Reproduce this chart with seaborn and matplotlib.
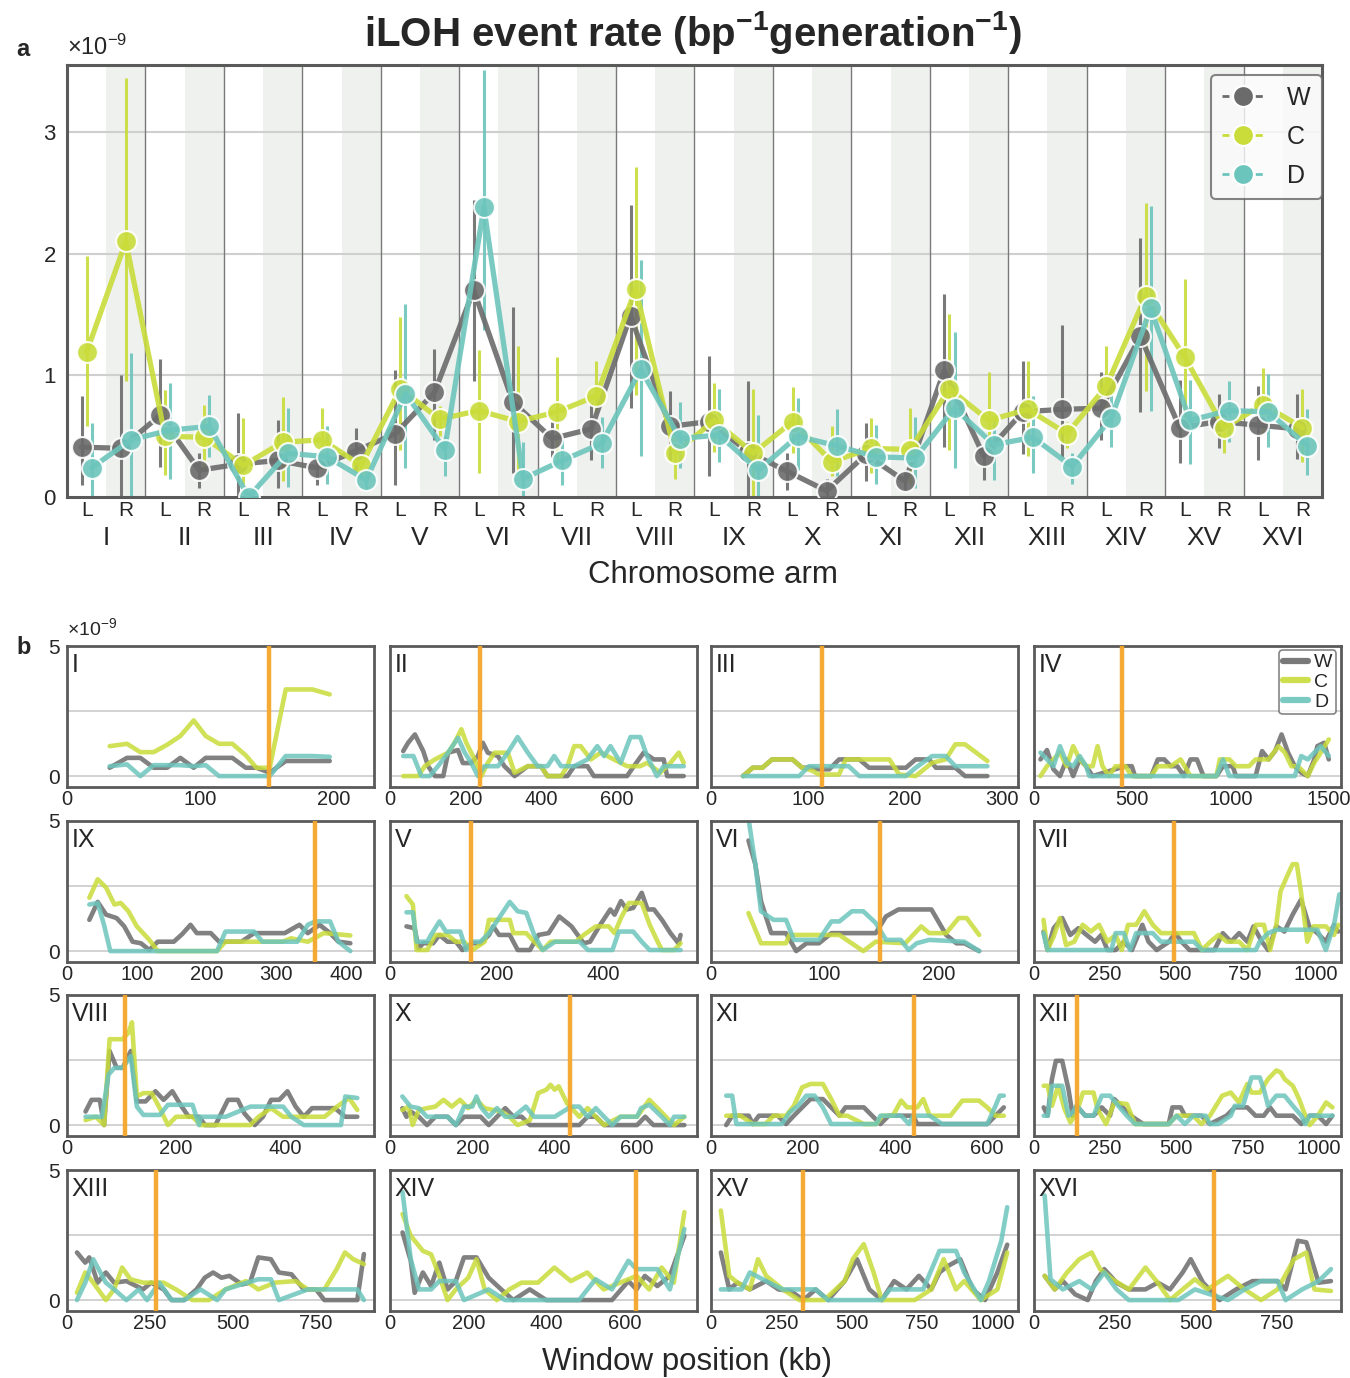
import matplotlib
matplotlib.use("Agg")
import matplotlib.pyplot as plt
import matplotlib.transforms as mtransforms
from matplotlib.lines import Line2D
import seaborn as sns
import pandas as pd

sns.set_theme(style="white")
plt.rcParams["font.family"] = ["Liberation Sans", "DejaVu Sans"]
plt.rcParams["mathtext.fontset"] = "custom"
plt.rcParams["mathtext.rm"] = "Liberation Sans"
plt.rcParams["mathtext.it"] = "Liberation Sans:italic"
plt.rcParams["mathtext.bf"] = "Liberation Sans:bold"

# ---------------- data: panel a (per chromosome arm, x1e-9) ----------------
chroms = ["I", "II", "III", "IV", "V", "VI", "VII", "VIII",
          "IX", "X", "XI", "XII", "XIII", "XIV", "XV", "XVI"]
arm_labels = ["L", "R"] * 16
strains = ["W", "C", "D"]

rate_W = [0.41, 0.40, 0.67, 0.22, 0.27, 0.30, 0.24, 0.38, 0.52, 0.86, 1.70, 0.78, 0.48, 0.56, 1.49, 0.58,
          0.62, 0.37, 0.21, 0.05, 0.35, 0.13, 1.04, 0.34, 0.70, 0.72, 0.73, 1.32, 0.57, 0.62, 0.59, 0.56]
lo_W = [0.10, 0.0, 0.25, 0.07, 0.0, 0.07, 0.10, 0.22, 0.10, 0.47, 0.95, 0.20, 0.33, 0.30, 0.73, 0.30,
        0.17, 0.0, 0.06, 0.0, 0.13, 0.05, 0.41, 0.14, 0.35, 0.33, 0.47, 0.70, 0.28, 0.40, 0.30, 0.31]
hi_W = [0.83, 1.00, 1.13, 0.36, 0.69, 0.63, 0.32, 0.57, 1.04, 1.22, 2.44, 1.56, 0.62, 0.77, 2.40, 0.87,
        1.16, 0.95, 0.36, 0.15, 0.61, 0.22, 1.67, 0.40, 1.12, 1.41, 1.03, 2.13, 0.96, 0.85, 0.91, 0.85]

rate_C = [1.19, 2.10, 0.50, 0.49, 0.26, 0.45, 0.47, 0.26, 0.89, 0.64, 0.71, 0.62, 0.70, 0.83, 1.71, 0.36,
          0.63, 0.36, 0.62, 0.29, 0.40, 0.39, 0.89, 0.63, 0.72, 0.52, 0.91, 1.65, 1.15, 0.57, 0.76, 0.57]
lo_C = [0.58, 0.95, 0.18, 0.22, 0.11, 0.13, 0.22, 0.15, 0.39, 0.50, 0.20, 0.20, 0.28, 0.69, 0.84, 0.15,
        0.37, 0.0, 0.36, 0.17, 0.20, 0.11, 0.39, 0.36, 0.34, 0.40, 0.61, 0.87, 0.61, 0.36, 0.52, 0.29]
hi_C = [1.98, 3.44, 0.88, 0.76, 0.65, 0.82, 0.73, 0.36, 1.48, 0.75, 1.21, 1.24, 1.15, 1.12, 2.71, 0.50,
        0.94, 0.89, 0.90, 0.58, 0.65, 0.73, 1.50, 1.03, 1.12, 0.62, 1.24, 2.42, 1.79, 0.70, 1.06, 0.89]

rate_D = [0.24, 0.47, 0.55, 0.58, 0.0, 0.36, 0.33, 0.14, 0.85, 0.39, 2.38, 0.15, 0.30, 0.44, 1.05, 0.48,
          0.51, 0.22, 0.50, 0.42, 0.33, 0.32, 0.73, 0.43, 0.49, 0.25, 0.65, 1.55, 0.63, 0.71, 0.70, 0.42]
lo_D = [0.0, 0.0, 0.15, 0.33, 0.0, 0.08, 0.11, 0.06, 0.24, 0.17, 1.37, 0.0, 0.10, 0.24, 0.34, 0.24,
        0.29, 0.0, 0.22, 0.17, 0.11, 0.07, 0.24, 0.14, 0.20, 0.11, 0.41, 0.71, 0.27, 0.45, 0.41, 0.18]
hi_D = [0.61, 1.18, 0.94, 0.84, 0.05, 0.73, 0.58, 0.22, 1.59, 0.50, 3.51, 0.45, 0.48, 0.66, 1.95, 0.78,
        0.89, 0.67, 0.81, 0.72, 0.59, 0.66, 1.36, 0.66, 0.83, 0.36, 0.86, 2.39, 0.96, 0.95, 1.01, 0.72]

# ---------------- data: panel b (sliding windows, kb / x1e-9) ----------------
chrom_len = {"I": 230.2, "II": 813.2, "III": 316.6, "IV": 1560, "V": 576.9, "VI": 270.2,
             "VII": 1090.9, "VIII": 562.6, "IX": 439.9, "X": 745.8, "XI": 666.8, "XII": 1078.2,
             "XIII": 924.4, "XIV": 784.3, "XV": 1091.3, "XVI": 948.1}
cen_kb = {"I": 151.5, "II": 238.2, "III": 114.4, "IV": 449.7, "V": 151.9, "VI": 148.5,
          "VII": 496.9, "VIII": 105.6, "IX": 355.6, "X": 436.3, "XI": 440.1, "XII": 150.8,
          "XIII": 268.0, "XIV": 628.8, "XV": 326.6, "XVI": 555.9}
panel_order = ["I", "II", "III", "IV", "IX", "V", "VI", "VII",
               "VIII", "X", "XI", "XII", "XIII", "XIV", "XV", "XVI"]
xticks_b = {"I": [0, 100, 200], "II": [0, 200, 400, 600], "III": [0, 100, 200, 300],
            "IV": [0, 500, 1000, 1500], "IX": [0, 100, 200, 300, 400], "V": [0, 200, 400],
            "VI": [0, 100, 200], "VII": [0, 250, 500, 750, 1000], "VIII": [0, 200, 400],
            "X": [0, 200, 400, 600], "XI": [0, 200, 400, 600], "XII": [0, 250, 500, 750, 1000],
            "XIII": [0, 250, 500, 750], "XIV": [0, 200, 400, 600], "XV": [0, 250, 500, 750, 1000],
            "XVI": [0, 250, 500, 750]}

W_kb = {
    "I": [32, 45, 55, 65, 75, 85, 95, 104, 114, 124, 134, 142, 152, 164, 184, 197],
    "II": [35, 48, 66, 88, 101, 119, 141, 154, 180, 193, 215, 233, 246, 259, 286, 303, 330, 365, 400, 417,
           470, 488, 523, 540, 628, 646, 672, 699, 725, 734, 778],
    "III": [33, 43, 53, 63, 84, 94, 105, 111, 122, 132, 153, 163, 180, 201, 211, 225, 232, 252, 262, 285],
    "IV": [33, 66, 99, 132, 166, 199, 232, 265, 298, 464, 497, 513, 596, 629, 662, 695, 728, 762, 795, 828,
           861, 927, 960, 1010, 1026, 1126, 1159, 1192, 1225, 1258, 1291, 1325, 1358, 1391, 1424, 1440,
           1474, 1498],
    "IX": [32, 44, 56, 71, 82, 94, 106, 118, 130, 153, 165, 177, 186, 206, 218, 250, 268, 312, 333, 345,
           362, 377, 389, 406],
    "V": [31, 46, 54, 62, 81, 93, 108, 124, 136, 155, 170, 186, 194, 205, 225, 240, 263, 279, 298, 318,
          341, 364, 376, 395, 414, 422, 434, 445, 457, 473, 484, 496, 511, 527, 542, 546],
    "VI": [33, 39, 44, 53, 66, 75, 84, 95, 106, 145, 154, 165, 194, 207, 216, 223, 236],
    "VII": [34, 48, 70, 100, 129, 158, 187, 217, 239, 261, 290, 319, 348, 385, 407, 436, 480, 502, 524,
            553, 641, 671, 700, 729, 758, 780, 810, 832, 861, 890, 919, 949, 978, 1007, 1037, 1066, 1081],
    "VIII": [34, 45, 60, 68, 78, 91, 102, 117, 128, 144, 162, 177, 193, 208, 223, 242, 253, 272, 295, 313,
             325, 344, 359, 374, 389, 404, 419, 434, 449, 491, 510, 532],
    "X": [30, 40, 50, 70, 90, 110, 140, 160, 180, 220, 240, 260, 280, 300, 320, 340, 460, 480, 500, 520,
          600, 620, 640, 715],
    "XI": [33, 46, 82, 91, 104, 145, 163, 180, 198, 216, 243, 261, 279, 292, 332, 350, 368, 386, 439, 448,
           600, 618, 636],
    "XII": [34, 48, 63, 77, 99, 121, 136, 150, 180, 209, 238, 267, 282, 311, 340, 384, 473, 486, 515, 530,
            588, 618, 676, 705, 749, 778, 807, 829, 851, 909, 939, 968, 997, 1026, 1048],
    "XIII": [30, 55, 67, 92, 117, 142, 179, 229, 253, 291, 315, 353, 390, 415, 440, 465, 489, 527, 551, 576,
             614, 638, 676, 713, 750, 775, 874, 894],
    "XIV": [32, 53, 63, 84, 105, 126, 147, 168, 189, 221, 252, 284, 315, 357, 399, 567, 609, 630, 651, 683,
            715, 752],
    "XV": [35, 65, 94, 138, 196, 240, 284, 328, 372, 416, 475, 519, 563, 607, 651, 695, 739, 783, 812, 842,
           886, 930, 974, 1018, 1053],
    "XVI": [33, 64, 89, 127, 166, 191, 217, 255, 293, 344, 382, 420, 459, 484, 522, 573, 624, 675, 752, 777,
            815, 841, 879, 917],
}
W_rate = {
    "I": [0.32, 0.7, 0.7, 0.32, 0.32, 0.7, 0.32, 0.7, 0.7, 0.7, 0.32, 0.32, 0.13, 0.58, 0.58, 0.58],
    "II": [0.96, 1.28, 1.6, 0.96, 0.38, 0, 0, 0.9, 1.0, 0.5, 0.5, 0.77, 1.28, 0.9, 0.77, 0.38, 0, 0.38, 0.38,
           0, 0, 0.38, 0.38, 0, 0, 0.38, 0.9, 0.64, 0.64, 0, 0],
    "III": [0, 0.32, 0.32, 0.64, 0.64, 0.32, 0.32, 0.26, 0.26, 0.64, 0.64, 0.32, 0.32, 0.32, 0.64, 0.64,
            0.32, 0.32, 0, 0],
    "IV": [0.64, 1.0, 0.26, 0, 0.64, 0, 0.64, 0.38, 0, 0.38, 0.38, 0, 0, 0.64, 0.64, 0.38, 0.38, 0, 0.64,
           0.64, 0, 0, 0.38, 0.38, 0, 0, 0.96, 0.64, 0.96, 1.6, 0.9, 0.38, 0.13, 0, 0.64, 1.15, 1.28, 0.64],
    "IX": [1.2, 1.89, 1.4, 1.27, 0.95, 0.36, 0.3, 0.04, 0.36, 0.36, 0.65, 1.01, 0.69, 0.69, 0.36, 0.36,
           0.69, 0.69, 1.01, 0.69, 1.01, 0.69, 0.36, 0.3],
    "V": [0.95, 0.88, 0.1, 0.3, 0.3, 0.62, 0.36, 0.36, 0.04, 0.3, 0.3, 0.62, 0.95, 0.62, 0.62, 0.04, 0.04,
          0.62, 0.69, 1.33, 0.95, 0.3, 0.36, 1.01, 1.6, 1.4, 1.92, 1.6, 1.66, 2.24, 1.6, 1.6, 1.2, 0.69,
          0.3, 0.62],
    "VI": [4.25, 3.34, 1.92, 0.69, 0.69, 0.0, 0.3, 0.3, 0.69, 0.69, 1.33, 1.6, 1.6, 0.62, 0.3, 0.3, 0.0],
    "VII": [0.75, 0.04, 0.88, 1.27, 0.62, 0.88, 0.62, 0.36, 0.62, 0.04, 0.04, 0.36, 0.04, 1.01, 0.36, 0.04,
            0.36, 0.69, 0.36, 0.04, 0.04, 0.69, 0.36, 0.69, 0.36, 0.95, 0.36, 0.04, 0.95, 0.75, 1.4, 1.98,
            0.95, 0.69, 0.36, 1.01, 0.75],
    "VIII": [0.52, 0.97, 0.97, 0.0, 2.85, 2.2, 2.2, 2.85, 0.91, 0.91, 1.3, 0.97, 1.3, 0.78, 0.32, 0.32, 0.0,
             0.0, 0.97, 0.97, 0.45, 0.0, 0.32, 0.97, 0.97, 1.3, 0.71, 0.32, 0.65, 0.65, 0.32, 0.32],
    "X": [0.65, 0.32, 0.52, 0.32, 0.0, 0.32, 0.32, 0.0, 0.32, 0.32, 0.0, 0.32, 0.65, 0.32, 0.32, 0.0, 0.0,
          0.32, 0.32, 0.0, 0.0, 0.32, 0.0, 0.0],
    "XI": [0.0, 0.36, 0.36, 0.04, 0.36, 0.36, 0.04, 0.36, 0.68, 1.0, 1.0, 0.68, 0.36, 0.68, 0.68, 0.36, 0.04,
           0.36, 0.36, 0.04, 0.04, 0.36, 0.68],
    "XII": [0.68, 0.36, 1.77, 2.47, 2.47, 1.38, 0.36, 0.74, 0.36, 0.36, 0.68, 0.36, 1.0, 0.68, 0.36, 0.04,
            0.04, 0.68, 0.68, 0.36, 0.36, 0.04, 0.36, 0.68, 0.68, 0.36, 0.36, 0.68, 0.36, 0.36, 0.04, 0.36,
            0.36, 0.04, 0.36],
    "XIII": [1.83, 1.44, 1.64, 0.67, 1.06, 0.67, 0.73, 0.41, 0.67, 0.41, 0.0, 0.0, 0.41, 0.86, 1.06, 0.86,
             0.93, 0.6, 0.67, 1.64, 1.57, 1.06, 0.99, 0.41, 0.41, 0.0, 0.0, 1.77],
    "XIV": [2.6, 1.51, 0.28, 1.06, 0.54, 1.44, 0.41, 0.73, 1.64, 1.64, 0.86, 0.41, 0.0, 0.41, 0.0, 0.0, 0.73,
            0.41, 0.93, 0.54, 0.93, 2.47],
    "XV": [1.83, 0.41, 0.67, 0.41, 0.73, 0.41, 0.35, 0.0, 0.41, 0.0, 0.73, 1.57, 0.41, 0.0, 0.73, 0.41, 0.93,
           0.41, 1.06, 1.31, 1.57, 0.41, 0.0, 1.06, 2.13],
    "XVI": [0.93, 0.41, 0.73, 0.22, 0.0, 0.73, 1.19, 0.67, 0.41, 0.41, 0.67, 0.41, 1.06, 1.57, 0.67, 0.0,
            0.41, 0.73, 0.73, 0.41, 2.28, 2.22, 0.67, 0.73],
}

C_kb = {
    "I": [32, 45, 55, 65, 75, 85, 95, 104, 114, 124, 134, 142, 152, 164, 184, 197],
    "II": [35, 75, 92, 119, 154, 171, 189, 202, 224, 242, 259, 277, 312, 330, 365, 400, 417, 453, 470, 488,
           505, 532, 558, 593, 628, 663, 681, 716, 743, 765, 778],
    "III": [33, 43, 53, 63, 84, 94, 105, 111, 132, 139, 184, 194, 211, 228, 242, 252, 262, 285],
    "IV": [33, 66, 99, 132, 166, 199, 232, 265, 298, 323, 348, 381, 414, 464, 497, 596, 629, 695, 745, 795,
           927, 944, 993, 1026, 1093, 1126, 1192, 1242, 1275, 1308, 1341, 1391, 1424, 1457, 1498],
    "IX": [32, 44, 56, 68, 77, 88, 100, 118, 130, 215, 227, 309, 321, 345, 368, 406],
    "V": [31, 43, 50, 70, 85, 108, 124, 139, 155, 178, 186, 225, 232, 256, 271, 287, 302, 349, 364, 387,
          411, 422, 434, 449, 473, 488, 503, 511, 534, 546],
    "VI": [33, 44, 66, 69, 113, 134, 145, 171, 185, 192, 207, 218, 225, 236],
    "VII": [34, 48, 70, 92, 114, 143, 173, 202, 231, 261, 290, 312, 334, 363, 392, 422, 451, 495, 568, 597,
            627, 656, 685, 729, 758, 788, 817, 839, 861, 876, 897, 919, 934, 949, 971, 993, 1037, 1066, 1081],
    "VIII": [34, 53, 68, 78, 102, 113, 119, 128, 140, 155, 170, 185, 200, 230, 245, 336, 351, 374, 396, 472,
             495, 517, 532],
    "X": [30, 45, 55, 70, 90, 110, 130, 150, 170, 190, 210, 230, 270, 290, 310, 340, 360, 380, 390, 400,
          410, 430, 460, 480, 500, 520, 560, 600, 630, 650, 670, 690, 715],
    "XI": [33, 64, 91, 118, 136, 163, 180, 198, 216, 243, 261, 279, 296, 332, 359, 372, 395, 413, 426, 448,
           461, 475, 520, 546, 582, 600, 618, 636],
    "XII": [34, 48, 63, 85, 107, 128, 150, 172, 209, 223, 253, 282, 326, 355, 473, 501, 559, 588, 618, 639,
            661, 691, 720, 749, 764, 793, 822, 851, 866, 880, 909, 931, 953, 968, 997, 1026, 1048],
    "XIII": [30, 55, 79, 117, 142, 166, 191, 229, 291, 328, 378, 427, 477, 539, 576, 626, 688, 725, 775, 812,
             837, 862, 894],
    "XIV": [32, 53, 84, 105, 126, 147, 168, 200, 221, 242, 273, 305, 336, 378, 420, 462, 504, 546, 588, 630,
            662, 694, 725, 752],
    "XV": [35, 65, 94, 138, 167, 196, 255, 314, 402, 475, 504, 543, 578, 607, 724, 783, 827, 871, 900, 959,
           1018, 1053],
    "XVI": [33, 64, 102, 140, 178, 204, 242, 293, 344, 382, 420, 459, 497, 535, 599, 650, 701, 752, 803, 841,
            866, 917],
}
C_rate = {
    "I": [1.15, 1.24, 0.92, 0.92, 1.2, 1.54, 2.14, 1.54, 1.24, 1.24, 0.8, 0.32, 0.32, 3.33, 3.33, 3.14],
    "II": [0, 0, 0.38, 0.64, 0.9, 1.28, 1.8, 1.28, 0.64, 0, 0.51, 0.9, 0.9, 0.13, 0.38, 0.38, 0, 0, 0.38,
           1.15, 1.15, 0.64, 0.9, 0.64, 0.38, 0.38, 0.51, 0.13, 0.51, 0.9, 0.51],
    "III": [0, 0.32, 0.32, 0.64, 0.64, 0.32, 0.2, 0.06, 0.06, 0.64, 0.64, 0.06, 0, 0.51, 0.64, 1.22, 1.22,
            0.58],
    "IV": [0, 0.38, 0.64, 0.9, 0.38, 1.15, 0.64, 0.38, 0.38, 1.15, 0.38, 0, 0.38, 0.38, 0, 0, 0.38, 0.38,
           0.64, 0, 0, 0.64, 0.64, 0.38, 0.38, 0.64, 0.64, 1.15, 0.9, 0.38, 0.38, 0, 0.51, 0.9, 1.41],
    "IX": [2.05, 2.76, 2.44, 1.79, 1.85, 1.53, 0.95, 0.43, 0, 0, 0.36, 0.36, 0.49, 0.36, 0.69, 0.6],
    "V": [2.11, 1.79, 0.04, 0.04, 0.62, 0.62, 0.36, 0.36, 0.04, 0.36, 1.2, 1.2, 0.69, 0.69, 0.36, 0.04, 0.36,
          0.36, 0.62, 0.95, 0.95, 0.69, 1.27, 1.85, 1.85, 1.01, 0.36, 0.04, 0.04, 0.3],
    "VI": [1.46, 0.3, 0.3, 0.62, 0.62, 0.0, 0.36, 0.3, 0.95, 0.69, 0.69, 1.27, 1.27, 0.62],
    "VII": [1.2, 0.04, 0.56, 1.27, 0.23, 0.36, 1.01, 0.75, 1.01, 0.36, 0.62, 0.04, 1.01, 1.01, 1.53, 1.01,
            0.69, 0.69, 0.69, 0.04, 0.36, 0.62, 0.36, 0.36, 0.04, 1.01, 1.01, 0.04, 1.01, 2.3, 2.82, 3.34,
            3.34, 2.25, 0.36, 0.95, 0.95, 0.62, 1.01],
    "VIII": [0.19, 0.32, 0.0, 3.3, 3.3, 3.56, 3.95, 1.1, 1.23, 1.23, 0.65, 0.0, 0.32, 0.32, 0.0, 0.0, 0.32,
             0.65, 0.32, 0.32, 0.71, 1.04, 0.58],
    "X": [0.58, 0.71, 0.0, 0.58, 0.65, 0.71, 0.97, 0.71, 0.97, 0.65, 0.97, 0.65, 0.52, 0.32, 0.0, 0.19, 1.23,
          1.36, 1.55, 1.36, 1.49, 0.84, 0.32, 0.65, 0.32, 0.0, 0.32, 0.32, 0.97, 0.65, 0.32, 0.0, 0.32],
    "XI": [0.36, 0.36, 0.04, 0.04, 0.36, 0.36, 0.74, 1.45, 1.58, 1.58, 1.0, 0.36, 0.36, 0.04, 0.04, 0.36,
           0.36, 0.94, 0.68, 0.68, 1.0, 0.36, 0.36, 0.94, 0.94, 0.68, 0.36, 0.36],
    "XII": [1.51, 1.51, 0.74, 1.51, 0.62, 0.1, 0.49, 1.25, 1.25, 0.62, 0.04, 0.87, 0.81, 0.04, 0.04, 0.36,
            0.36, 0.04, 0.36, 0.74, 1.13, 1.25, 0.87, 1.58, 1.25, 1.25, 1.77, 2.1, 2.03, 1.77, 1.51, 1.0,
            0.36, 0.0, 0.36, 0.87, 0.68],
    "XIII": [0.28, 1.06, 0.67, 0.0, 0.41, 1.25, 0.8, 0.67, 0.67, 0.41, 0.0, 0.0, 0.41, 0.73, 0.41, 0.67,
             0.73, 0.41, 0.41, 1.19, 1.83, 1.57, 1.38],
    "XIV": [3.31, 2.47, 1.89, 1.76, 0.93, 0.0, 0.41, 0.86, 1.57, 0.41, 0.0, 0.41, 0.67, 0.67, 1.25, 0.73,
            1.06, 0.41, 0.67, 0.93, 0.41, 1.25, 0.67, 3.38],
    "XV": [3.44, 0.93, 0.67, 0.41, 1.57, 0.93, 0.41, 0.0, 0.0, 0.73, 1.57, 2.15, 1.06, 0.0, 0.0, 0.41, 1.57,
           0.41, 0.73, 0.0, 0.41, 1.83],
    "XVI": [0.93, 0.41, 1.06, 1.57, 1.83, 1.19, 0.8, 0.41, 1.25, 0.67, 0.0, 0.41, 0.8, 0.41, 0.93, 0.41, 0.0,
            0.41, 1.57, 1.83, 0.41, 0.35],
}

D_kb = {
    "I": [32, 45, 55, 65, 75, 85, 95, 104, 114, 124, 134, 142, 152, 164, 184, 197],
    "II": [35, 62, 83, 105, 127, 154, 180, 198, 215, 233, 250, 286, 312, 338, 365, 391, 417, 435, 453, 488,
           523, 549, 567, 584, 611, 637, 663, 681, 707, 725, 778],
    "III": [33, 91, 101, 132, 142, 153, 201, 211, 228, 242, 252, 285],
    "IV": [33, 66, 99, 132, 166, 199, 232, 265, 281, 927, 960, 993, 1325, 1358, 1391, 1424, 1457, 1498],
    "IX": [32, 44, 53, 62, 215, 227, 268, 280, 330, 345, 356, 377, 389, 406],
    "V": [31, 43, 50, 70, 77, 93, 105, 132, 143, 155, 170, 186, 225, 240, 256, 271, 287, 310, 356, 372,
          418, 430, 457, 473, 488, 546],
    "VI": [33, 39, 44, 55, 66, 73, 95, 106, 113, 124, 134, 145, 154, 167, 174, 181, 192, 223, 236],
    "VII": [34, 48, 275, 290, 319, 341, 363, 422, 451, 568, 597, 788, 802, 832, 861, 1007, 1037, 1066, 1085],
    "VIII": [34, 64, 76, 87, 102, 117, 128, 140, 170, 185, 230, 242, 245, 291, 336, 396, 411, 434, 502, 510,
             532],
    "X": [30, 50, 70, 90, 140, 160, 180, 200, 210, 220, 240, 260, 280, 300, 330, 350, 400, 440, 460, 480,
          500, 520, 540, 560, 600, 610, 630, 660, 680, 690, 715],
    "XI": [33, 46, 55, 154, 171, 189, 207, 225, 243, 261, 359, 368, 413, 430, 439, 475, 502, 600, 618, 627,
           636],
    "XII": [34, 48, 63, 99, 121, 136, 150, 180, 209, 238, 267, 296, 326, 355, 473, 501, 530, 559, 603, 618,
            647, 691, 705, 734, 764, 793, 807, 822, 851, 880, 909, 939, 953, 968, 1048],
    "XIII": [30, 55, 79, 117, 142, 179, 216, 241, 278, 315, 353, 402, 452, 477, 576, 614, 638, 725, 874, 894],
    "XIV": [32, 53, 74, 105, 126, 168, 189, 252, 294, 483, 525, 567, 609, 630, 683, 715, 752],
    "XV": [35, 109, 138, 196, 255, 372, 416, 607, 636, 754, 812, 871, 900, 959, 988, 1032, 1053],
    "XVI": [33, 51, 89, 140, 178, 217, 255, 293, 446, 497, 599, 650, 701, 752, 777, 828, 879, 917],
}
D_rate = {
    "I": [0.38, 0.45, 0.0, 0.42, 0.42, 0.42, 0.38, 0.42, 0.0, 0.0, 0.0, 0.0, 0.0, 0.77, 0.77, 0.74],
    "II": [0.77, 0.77, 0, 0, 0.38, 0.9, 1.47, 0.9, 0.51, 0, 0.38, 0.38, 0.9, 1.5, 0.9, 0.38, 0.38, 0.77,
           0.38, 0.38, 0.64, 1.15, 0.77, 1.15, 0.51, 1.5, 1.5, 0.77, 0, 0.38, 0.38],
    "III": [0, 0, 0.38, 0.38, 0.38, 0, 0, 0.32, 0.77, 0.77, 0.38, 0.38],
    "IV": [0.9, 0.64, 0.38, 1.15, 0.51, 0.38, 0.77, 0.38, 0, 0, 0.64, 0, 0, 0.77, 0.64, 0.9, 1.15, 0.77],
    "IX": [1.79, 1.85, 1.01, 0, 0, 0.75, 0.75, 0.36, 0.36, 1.01, 1.14, 1.14, 0.36, 0],
    "V": [1.49, 1.49, 0.36, 0.36, 0.62, 1.14, 0.75, 0.75, 0.04, 0.36, 0.36, 0.69, 1.89, 1.53, 1.47, 0.62,
          0.04, 0.36, 0.36, 0.04, 0.04, 0.75, 0.75, 0.36, 0.04, 0.04],
    "VI": [5.1, 3.34, 1.53, 1.2, 1.2, 0.43, 0.43, 1.14, 1.14, 1.53, 1.53, 1.08, 0.43, 0.43, 0.04, 0.3, 0.43,
           0.36, 0.0],
    "VII": [0.69, 0.04, 0.04, 0.69, 0.69, 0.04, 0.69, 0.69, 0.36, 0.36, 0.04, 0.04, 0.36, 0.69, 0.82, 0.82,
            0.04, 1.01, 2.18],
    "VIII": [0.32, 0.32, 1.94, 2.2, 2.2, 2.65, 0.71, 0.39, 0.39, 0.78, 0.78, 0.0, 0.32, 0.32, 0.71, 0.71,
             0.32, 0.0, 0.0, 1.1, 1.04],
    "X": [1.1, 0.71, 0.65, 0.32, 0.32, 0.0, 0.71, 0.71, 1.1, 0.71, 0.32, 0.65, 0.32, 0.32, 0.71, 0.32, 0.32,
          0.71, 0.71, 0.32, 0.65, 0.32, 0.0, 0.32, 0.32, 0.65, 0.78, 0.32, 0.0, 0.32, 0.32],
    "XI": [1.13, 1.13, 0.04, 0.04, 0.49, 0.74, 1.13, 1.13, 0.68, 0.04, 0.04, 0.36, 0.36, 0.04, 0.36, 0.36,
           0.04, 0.04, 0.74, 1.13, 1.13],
    "XII": [0.36, 0.36, 1.51, 1.51, 0.36, 0.49, 0.74, 0.36, 0.36, 1.13, 1.13, 0.74, 0.36, 0.04, 0.04, 0.36,
            0.04, 0.36, 0.36, 0.04, 0.04, 0.36, 0.74, 0.74, 1.83, 1.83, 1.38, 0.74, 1.13, 1.13, 0.74, 0.36,
            0.04, 0.36, 0.36],
    "XIII": [0.0, 0.67, 1.57, 0.67, 0.41, 0.0, 0.41, 0.0, 0.67, 0.0, 0.0, 0.41, 0.0, 0.41, 0.8, 0.8, 0.0,
             0.41, 0.41, 0.0],
    "XIV": [4.15, 1.57, 0.41, 0.41, 0.73, 0.73, 0.0, 0.41, 0.0, 0.0, 0.8, 0.41, 1.51, 1.19, 1.19, 0.41, 2.73],
    "XV": [0.41, 0.41, 1.06, 0.73, 0.41, 0.41, 0.0, 0.0, 0.41, 0.41, 1.89, 1.89, 1.06, 0.0, 0.73, 2.28, 3.57],
    "XVI": [4.02, 0.8, 0.41, 0.73, 0.41, 1.06, 0.41, 0.0, 0.0, 0.41, 0.0, 0.41, 0.73, 0.73, 0.0, 0.41, 0.73,
            1.19],
}

# ---------------- style ----------------
colors = {"W": "#6b6b6b", "C": "#c9dc3a", "D": "#6cc5bc"}
dodge = {"W": -0.13, "C": 0.0, "D": 0.13}
spine_col = "#5a5a5a"
W_PX, H_PX = 1350, 1378

fig = plt.figure(figsize=(W_PX / 100, H_PX / 100), dpi=100)


def px_axes(left, top, right, bottom):
    return fig.add_axes([left / W_PX, 1 - bottom / H_PX, (right - left) / W_PX, (bottom - top) / H_PX])


# ================= panel a =================
ax = px_axes(67, 65, 1322, 497)
n_arm = len(arm_labels)
for i in range(1, n_arm, 2):
    ax.axvspan(i - 0.5, i + 0.5, color="#eff1ef", lw=0, zorder=0)
for yv in [1, 2, 3]:
    ax.axhline(yv, color="#cfcfcf", lw=1.5, zorder=0.5)
for k in range(1, 16):
    ax.axvline(2 * k - 0.5, color="#7a7a7a", lw=1.0, zorder=0.6)

rows = []
for s, vals, lo, hi in [("W", rate_W, lo_W, hi_W), ("C", rate_C, lo_C, hi_C), ("D", rate_D, lo_D, hi_D)]:
    for i, (v, l, h) in enumerate(zip(vals, lo, hi)):
        rows.append({"strain": s, "pos": i + dodge[s], "rate": v, "lo": l, "hi": h})
df_a = pd.DataFrame(rows)

for s in strains:
    sub = df_a[df_a.strain == s]
    ax.vlines(sub.pos, sub.lo, sub.hi, color=colors[s], lw=2.2, alpha=0.9, zorder=2)

sns.lineplot(data=df_a, x="pos", y="rate", hue="strain", hue_order=strains, palette=colors,
             estimator=None, sort=False, marker="o", markersize=15, markeredgecolor="white",
             markeredgewidth=1.5, linewidth=3.8, alpha=0.9, legend=False, ax=ax, zorder=3)

ax.set_xlim(-0.5, n_arm - 0.5)
ax.set_ylim(0, 3.55)
ax.set_xticks(range(n_arm))
ax.set_xticklabels(arm_labels, fontsize=15)
ax.set_yticks([0, 1, 2, 3])
ax.set_yticklabels(["0", "1", "2", "3"], fontsize=16)
ax.tick_params(axis="x", length=0, pad=3)
ax.tick_params(axis="y", length=0, pad=8)
ax.set_xlabel("")
ax.set_ylabel("")
for sp in ax.spines.values():
    sp.set_color(spine_col)
    sp.set_linewidth(2.2)

trans = mtransforms.blended_transform_factory(ax.transData, ax.transAxes)
for k, ch in enumerate(chroms):
    ax.text(2 * k + 0.5, -0.067, ch, transform=trans, ha="center", va="top", fontsize=19)

handles = [Line2D([0], [0], color=colors[s], lw=2, ls=(0, (2.5, 1.5)), marker="o", markersize=15,
                  markeredgecolor="white", markeredgewidth=1.5) for s in strains]
leg = ax.legend(handles, strains, loc="upper right", fontsize=18, handlelength=1.7, handletextpad=0.9,
                labelspacing=0.6, borderpad=0.45, borderaxespad=0, frameon=True, fancybox=True,
                bbox_to_anchor=(1.0, 0.977))
leg.get_frame().set_edgecolor("#666666")
leg.get_frame().set_linewidth(1.5)
leg.get_frame().set_facecolor("#fbfbfb")

fig.text(713 / W_PX, 1 - 575 / H_PX, "Chromosome arm", ha="center", va="center", fontsize=22.5)
fig.text(67 / W_PX, 1 - 47 / H_PX, r"$\times10^{-9}$", ha="left", va="center", fontsize=17)

# ================= panel b =================
col_left = [67, 390, 711, 1034]
row_top = [646, 821, 995, 1170]
pw, ph = 307, 141

for idx, ch in enumerate(panel_order):
    r, c = divmod(idx, 4)
    bx = px_axes(col_left[c], row_top[r], col_left[c] + pw, row_top[r] + ph)
    recs = []
    for s, kbd, rated in [("W", W_kb, W_rate), ("C", C_kb, C_rate), ("D", D_kb, D_rate)]:
        for kb, v in zip(kbd[ch], rated[ch]):
            recs.append({"strain": s, "kb": kb, "rate": v})
    dfb = pd.DataFrame(recs)
    bx.axhline(0, color="#cfcfcf", lw=1.3, zorder=0)
    bx.axhline(2.5, color="#cfcfcf", lw=1.3, zorder=0)
    sns.lineplot(data=dfb, x="kb", y="rate", hue="strain", hue_order=strains, palette=colors,
                 estimator=None, sort=False, linewidth=3.3, alpha=0.85, legend=False, ax=bx, zorder=2)
    bx.axvline(cen_kb[ch], color="#f4a62a", lw=3.2, alpha=0.95, zorder=3)
    bx.set_xlim(0, chrom_len[ch])
    bx.set_ylim(-0.42, 5.0)
    bx.set_xticks(xticks_b[ch])
    bx.set_xticklabels([str(t) for t in xticks_b[ch]])
    bx.set_yticks([0, 5])
    if c == 0:
        bx.set_yticklabels(["0", "5"], fontsize=15)
    else:
        bx.set_yticklabels([])
    bx.tick_params(axis="x", labelsize=14.5, length=0, pad=2)
    bx.tick_params(axis="y", length=0, pad=5)
    bx.set_xlabel("")
    bx.set_ylabel("")
    for sp in bx.spines.values():
        sp.set_color(spine_col)
        sp.set_linewidth(2.0)
    bx.text(0.015, 0.95, ch, transform=bx.transAxes, ha="left", va="top", fontsize=18)
    if ch == "IV":
        lh = [Line2D([0], [0], color=colors[s], lw=4.5, alpha=0.9) for s in strains]
        lg = bx.legend(lh, strains, loc="upper right", fontsize=14, handlelength=1.3, handletextpad=0.3,
                       labelspacing=0.1, borderpad=0.2, borderaxespad=0, frameon=True, fancybox=True,
                       bbox_to_anchor=(0.985, 0.972))
        lg.get_frame().set_edgecolor("#666666")
        lg.get_frame().set_linewidth(1.2)

fig.text(67 / W_PX, 1 - 628 / H_PX, r"$\times10^{-9}$", ha="left", va="center", fontsize=14)
fig.text(687 / W_PX, 1 - 1362 / H_PX, "Window position (kb)", ha="center", va="center", fontsize=22.5)

# ---------------- titles / panel letters ----------------
fig.text(693 / W_PX, 1 - 33 / H_PX, r"iLOH event rate (bp$^{\mathbf{-1}}$generation$^{\mathbf{-1}}$)",
         ha="center", va="center", fontsize=29, fontweight="bold")
fig.text(16 / W_PX, 1 - 50 / H_PX, "a", ha="left", va="center", fontsize=17, fontweight="bold")
fig.text(16 / W_PX, 1 - 647 / H_PX, "b", ha="left", va="center", fontsize=17, fontweight="bold")

fig.savefig("out.png", dpi=100)
